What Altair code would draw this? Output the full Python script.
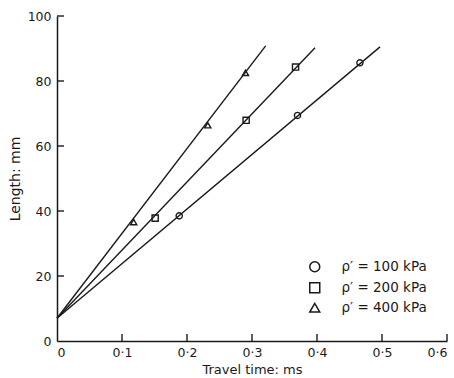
import altair as alt
import pandas as pd

# ---- data ----
series_names = ["ρ′ = 100 kPa", "ρ′ = 200 kPa", "ρ′ = 400 kPa"]
shapes = ["circle", "square", "triangle-up"]

time_100 = [0.188, 0.370, 0.466]
len_100 = [38.5, 69.4, 85.6]
time_200 = [0.151, 0.291, 0.367]
len_200 = [37.8, 67.9, 84.3]
time_400 = [0.118, 0.232, 0.290]
len_400 = [36.6, 66.4, 82.5]

line_start_time = [0.0, 0.0, 0.0]
line_start_len = [7.0, 7.0, 7.0]
line_end_time = [0.497, 0.397, 0.321]
line_end_len = [90.5, 90.2, 90.8]

x_tick_values = [0, 0.1, 0.2, 0.3, 0.4, 0.5, 0.6]
y_tick_values = [0, 20, 40, 60, 80, 100]
x_inner_ticks = [0.1, 0.2, 0.3, 0.4, 0.5, 0.6]
y_inner_ticks = [20, 40, 60, 80, 100]

# ---- tables ----
pts = pd.DataFrame({
    "t": time_100 + time_200 + time_400,
    "L": len_100 + len_200 + len_400,
    "s": [series_names[0]] * 3 + [series_names[1]] * 3 + [series_names[2]] * 3,
})
lines = pd.DataFrame({
    "t": line_start_time + line_end_time,
    "L": line_start_len + line_end_len,
    "s": series_names + series_names,
})
xt = pd.DataFrame({"t": x_inner_ticks})
yt = pd.DataFrame({"L": y_inner_ticks})

FONT = "DejaVu Sans"
INK = "#1a1a1a"

xscale = alt.Scale(domain=[0, 0.6], nice=False, zero=False)
yscale = alt.Scale(domain=[0, 100], nice=False, zero=False)

axis_style = dict(
    domainColor=INK, domainWidth=1.5,
    labelFont=FONT, labelFontSize=12.5, labelColor=INK,
    titleFont=FONT, titleColor=INK, titleFontWeight="normal",
)

xaxis = alt.Axis(
    values=x_tick_values, ticks=False, grid=False,
    labelExpr="datum.value == 0 ? '0' : replace(format(datum.value, '.1f'), '.', '·')",
    title="Travel time: ms", labelPadding=5, titlePadding=5, titleFontSize=13,
    **axis_style,
)
yaxis = alt.Axis(
    values=y_tick_values, ticks=False, grid=False, format="d",
    title="Length: mm", labelPadding=6, titlePadding=5, titleFontSize=14,
    **axis_style,
)

line_layer = alt.Chart(lines).mark_line(color=INK, strokeWidth=1.4).encode(
    x=alt.X("t:Q", scale=xscale, axis=xaxis),
    y=alt.Y("L:Q", scale=yscale, axis=yaxis),
    detail="s:N",
)

point_layer = alt.Chart(pts).mark_point(
    color=INK, strokeWidth=1.4, size=38, opacity=1
).encode(
    x=alt.X("t:Q", scale=xscale),
    y=alt.Y("L:Q", scale=yscale),
    shape=alt.Shape(
        "s:N",
        scale=alt.Scale(domain=series_names, range=shapes),
        legend=alt.Legend(
            title=None, orient="none", legendX=251, legendY=244,
            labelFont=FONT, labelFontSize=13.5, labelColor=INK,
            labelOffset=20, rowPadding=4,
        ),
    ),
)

xtick_layer = alt.Chart(xt).mark_rule(
    color=INK, strokeWidth=1.4, y2Offset=-7
).encode(x=alt.X("t:Q", scale=xscale), y=alt.Y(datum=0), y2=alt.Y2(datum=0))

ytick_layer = alt.Chart(yt).mark_rule(
    color=INK, strokeWidth=1.4, x2Offset=7
).encode(y=alt.Y("L:Q", scale=yscale), x=alt.X(datum=0), x2=alt.X2(datum=0))

chart = alt.layer(line_layer, point_layer, xtick_layer, ytick_layer).properties(
    width=390, height=325,
    autosize=alt.AutoSizeParams(type="none"),
    padding={"left": 57, "top": 16, "right": 7, "bottom": 37},
).configure_view(strokeOpacity=0)

chart.save("out.html", embed_options={"renderer": "svg", "actions": False})
